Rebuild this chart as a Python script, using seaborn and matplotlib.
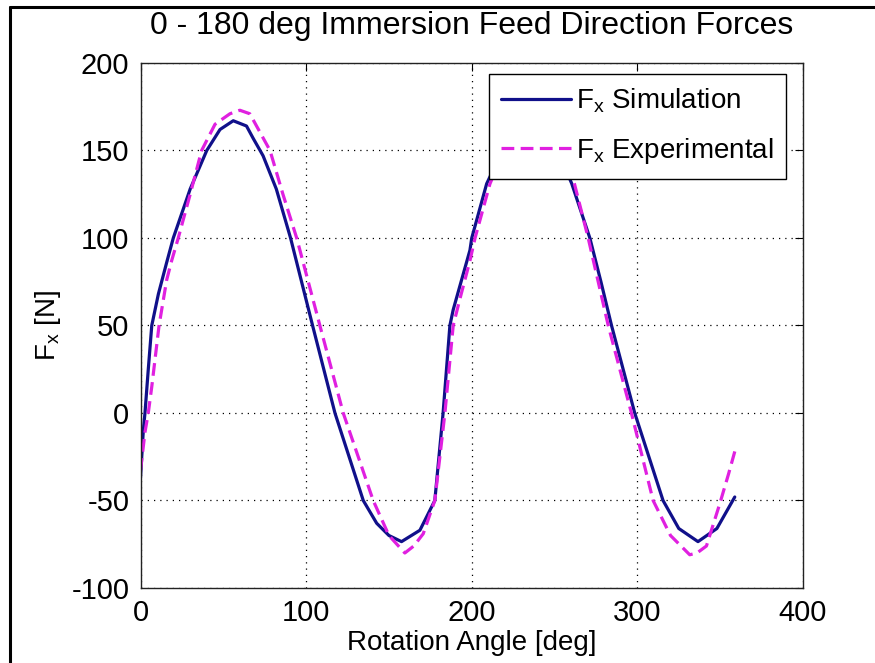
import numpy as np
import pandas as pd
import matplotlib
matplotlib.use("Agg")
import matplotlib.pyplot as plt
import seaborn as sns
from matplotlib.lines import Line2D

# ---- data ----
sim_angle = [0, 1.7, 2.7, 4.7, 6.8, 10.8, 15.8, 19.8, 30, 40, 48, 56, 64, 68, 74, 82,
             90.6, 103.9, 117.4, 134.5, 142.6, 150, 157.6, 168.7, 177.7, 182.7, 186.8,
             188.8, 198.9, 200, 209, 222, 235, 248, 255, 260.4, 271.3, 278, 284.4,
             298.4, 315.5, 325, 336.6, 348, 358.8]
sim_force = [-37, -10, 0, 25, 50, 68, 86, 100, 128, 150, 162, 167, 164, 157, 147, 128,
             100, 50, 0, -50, -63, -70, -73.5, -67, -50, 0, 50,
             59, 93, 100, 131, 157, 167, 157, 143, 131, 100, 75, 50,
             0, -50, -66, -73.5, -66, -48]

exp_angle = [0, 2.7, 4.7, 6.8, 11.2, 15.8, 18.8, 22.8, 30, 36.9, 45, 54, 60, 66, 78.2,
             86, 94.3, 108.3, 122.4, 140.5, 150, 159.6, 165, 170.7, 177.7, 183.8,
             188.8, 192.8, 198.9, 202, 211, 224, 237, 250, 262, 270.3, 282.4, 296.4,
             309.5, 320, 331.6, 336, 341.7, 349.7, 355, 359.4]
exp_force = [-33, -11, 0, 15, 50, 76, 87, 100, 125, 150, 165, 171, 173, 171, 150,
             125, 100, 50, 0, -50, -70, -80, -76, -69, -50, 0,
             50, 65, 87, 100, 131, 160, 172, 160, 131, 100, 50, 0,
             -50, -70, -81, -80, -76, -52, -35, -20]

x_ticks = [0, 100, 200, 300, 400]
y_ticks = [-100, -50, 0, 50, 100, 150, 200]

title = "0 - 180 deg Immersion Feed Direction Forces"
xlabel = "Rotation Angle [deg]"
ylabel = r"F$_\mathregular{x}$ [N]"
sim_label = r"F$_\mathregular{x}$ Simulation"
exp_label = r"F$_\mathregular{x}$ Experimental"

sim_df = pd.DataFrame({"angle": sim_angle, "force": sim_force})
exp_df = pd.DataFrame({"angle": exp_angle, "force": exp_force})

# ---- style ----
sns.set_style("white")
plt.rcParams["font.family"] = ["Liberation Sans", "DejaVu Sans"]
plt.rcParams["mathtext.fontset"] = "custom"
plt.rcParams["mathtext.rm"] = "Liberation Sans"
plt.rcParams["axes.unicode_minus"] = False
plt.rcParams["text.color"] = "black"
plt.rcParams["axes.labelcolor"] = "black"
plt.rcParams["xtick.color"] = "black"
plt.rcParams["ytick.color"] = "black"

fig = plt.figure(figsize=(8.75, 6.63), dpi=100)
ax = fig.add_axes([140.5 / 875, 1 - 588 / 663, (803 - 140.5) / 875, (588 - 63) / 663])

sns.lineplot(data=sim_df, x="angle", y="force", ax=ax, sort=False, estimator=None,
             color="#10108a", linewidth=2.3, label=sim_label)
sns.lineplot(data=exp_df, x="angle", y="force", ax=ax, sort=False, estimator=None,
             color="#e020e0", linewidth=2.3, label=exp_label)
ax.lines[-1].set_dashes((4, 2))

ax.set_xlim(0, 400)
ax.set_ylim(-100, 200)
ax.set_xticks(x_ticks)
ax.set_yticks(y_ticks)
ax.tick_params(direction="in", length=6, width=0.8, top=True, right=True,
               labelsize=21, pad=8, colors="black")
ax.grid(True, linestyle=(0, (1, 4)), color="black", linewidth=0.9)
for s in ax.spines.values():
    s.set_visible(True)
    s.set_color("#222222")
    s.set_linewidth(1.0)

ax.set_title(title, fontsize=23, pad=21, color="black")
ax.set_xlabel(xlabel, fontsize=20, labelpad=2)
ax.set_ylabel(ylabel, fontsize=20, labelpad=6)

leg = ax.legend(loc="upper right", bbox_to_anchor=(0.975, 0.979), borderaxespad=0,
                fontsize=20, frameon=True, fancybox=False, shadow=False,
                handlelength=2.5, handletextpad=0.2, labelspacing=0.75,
                borderpad=0.45)
leg.get_frame().set_edgecolor("black")
leg.get_frame().set_linewidth(1.0)
leg.get_frame().set_alpha(1)
for t in leg.get_texts():
    t.set_color("black")

# figure border (left and top)
fig.add_artist(Line2D([10 / 875, 10 / 875], [0, 1 - 7 / 663], color="black", linewidth=2.2,
                      transform=fig.transFigure))
fig.add_artist(Line2D([10 / 875, 1], [1 - 7 / 663, 1 - 7 / 663], color="black", linewidth=2.2,
                      transform=fig.transFigure))

fig.savefig("out.png", dpi=100)
